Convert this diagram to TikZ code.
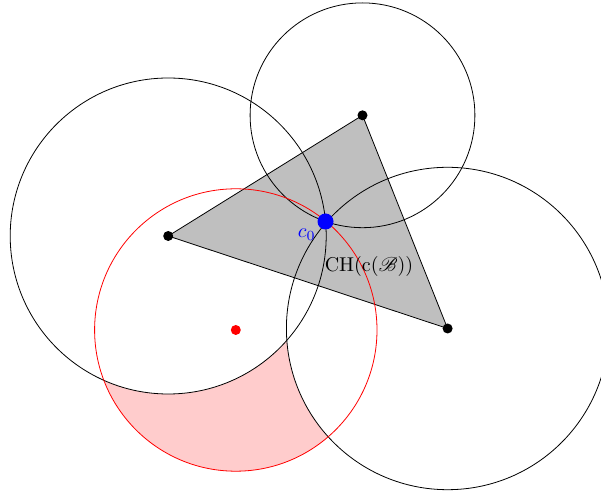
\documentclass[tikz,border=0pt]{standalone}
\usepackage{mathrsfs}
\begin{document}
\begin{tikzpicture}[x=0.5pt,y=-0.5pt,
  bdot/.style={fill=black},
  disk/.style={draw=black},
]
\useasboundingbox (0,0) rectangle (601,491);
\clip (0,0) rectangle (601,491);
\coordinate (A) at (168.2,236);
\coordinate (B) at (362.5,115.3);
\coordinate (C) at (447.6,328.5);
\coordinate (c0) at (325.5,221.5);
\coordinate (R) at (235.8,330);
% pink region: red disk minus black disks
\fill[red!20] (R) circle[radius=70.6pt];
\fill[white] (A) circle[radius=79pt];
\fill[white] (B) circle[radius=56.2pt];
\fill[white] (C) circle[radius=80.6pt];
% convex hull
\fill[gray!50] (A) -- (B) -- (C) -- cycle;
\draw (A) -- (B) -- (C) -- cycle;
% circles
\draw[disk] (A) circle[radius=79pt];
\draw[disk] (B) circle[radius=56.2pt];
\draw[disk] (C) circle[radius=80.6pt];
\draw[red] (R) circle[radius=70.6pt];
% points
\fill (A) circle[radius=2.5pt];
\fill (B) circle[radius=2.5pt];
\fill (C) circle[radius=2.5pt];
\fill[red] (R) circle[radius=2.5pt];
\fill[blue] (c0) circle[radius=4pt];
\node[blue,anchor=north east,inner sep=1pt] (lc0) at (318,226) {$c_0$};
\node (ch) at (369,267) {CH$(\mathrm{c}(\mathscr{B}))$};
\end{tikzpicture}
\end{document}
